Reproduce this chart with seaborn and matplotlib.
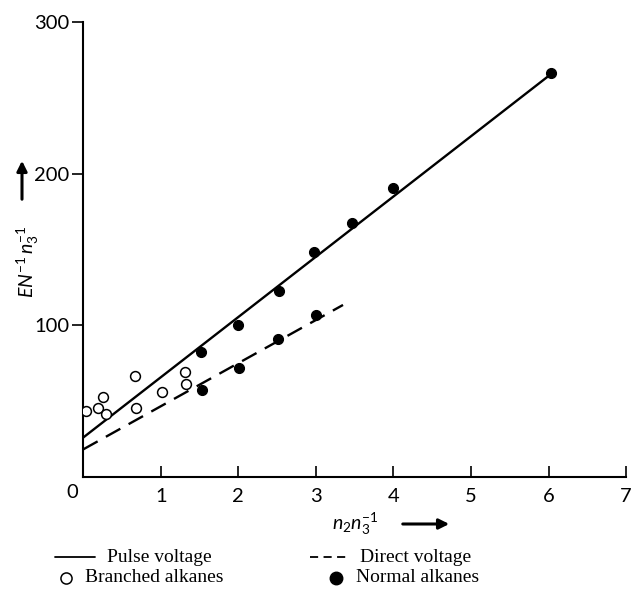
import matplotlib
matplotlib.use("Agg")
import matplotlib.pyplot as plt
import seaborn as sns
import pandas as pd
from matplotlib.lines import Line2D
from matplotlib.patches import FancyArrowPatch

sns.set_theme(style="white")
plt.rcParams["font.family"] = ["Lato", "DejaVu Sans"]
plt.rcParams["mathtext.fontset"] = "custom"
plt.rcParams["mathtext.it"] = "Lato:italic"
plt.rcParams["mathtext.rm"] = "Lato"
plt.rcParams["text.color"] = "black"

# Branched alkanes (open circles)
branched_x = [0.03, 0.19, 0.26, 0.30, 0.67, 0.68, 1.01, 1.31, 1.32]
branched_y = [43.5, 45.3, 53.0, 41.3, 66.8, 45.5, 56.0, 69.0, 61.3]

# Normal alkanes, pulse voltage (filled circles)
normal_pulse_x = [1.52, 2.00, 2.53, 2.98, 3.47, 3.99, 6.03]
normal_pulse_y = [82.6, 100.2, 122.6, 148.1, 167.6, 190.7, 266.5]

# Normal alkanes, direct voltage (filled circles)
normal_direct_x = [1.53, 2.01, 2.51, 3.00]
normal_direct_y = [57.2, 71.7, 90.8, 106.8]

# Fitted straight lines (end points)
pulse_line_x = [0.0, 6.03]
pulse_line_y = [26.0, 265.5]
direct_line_x = [0.0, 3.35]
direct_line_y = [18.2, 113.4]

x_ticks = [1, 2, 3, 4, 5, 6, 7]
y_ticks = [100, 200, 300]

fig = plt.figure(figsize=(6.35, 5.90), dpi=100)
ax = fig.add_axes([0.131, 0.1915, 0.855, 0.7715])

pulse_df = pd.DataFrame({"x": pulse_line_x, "y": pulse_line_y})
direct_df = pd.DataFrame({"x": direct_line_x, "y": direct_line_y})
sns.lineplot(data=pulse_df, x="x", y="y", ax=ax, color="black", lw=1.7)
sns.lineplot(data=direct_df, x="x", y="y", ax=ax, color="black", lw=1.7)
ax.lines[-1].set_dashes((7, 4))

normal_df = pd.DataFrame({"x": normal_pulse_x + normal_direct_x,
                          "y": normal_pulse_y + normal_direct_y})
branched_df = pd.DataFrame({"x": branched_x, "y": branched_y})
sns.scatterplot(data=normal_df, x="x", y="y", ax=ax, color="black",
                s=52, edgecolor="black", linewidth=0.8, zorder=5)
sns.scatterplot(data=branched_df, x="x", y="y", ax=ax, facecolor="white",
                s=50, edgecolor="black", linewidth=1.1, zorder=5)

ax.set_xlim(0, 7)
ax.set_ylim(0, 300)
ax.set_xticks(x_ticks)
ax.set_yticks(y_ticks)
ax.set_xticklabels([str(t) for t in x_ticks], fontsize=14.5)
ax.set_yticklabels([str(t) for t in y_ticks], fontsize=14.5)
ax.tick_params(axis="x", direction="in", length=8, width=1.2, pad=8,
               bottom=True, colors="black", labelcolor="black")
ax.tick_params(axis="y", direction="out", length=8, width=1.2, pad=2,
               left=True, colors="black", labelcolor="black")
for s in ["top", "right"]:
    ax.spines[s].set_visible(False)
for s in ["left", "bottom"]:
    ax.spines[s].set_color("black")
    ax.spines[s].set_linewidth(1.5)
ax.set_xlabel("")
ax.set_ylabel("")

# corner zero
fig.text(72 / 635, 1 - 492 / 590, "0", fontsize=14.5, ha="center", va="center")

# axis titles with arrows
fig.text(28 / 635, 1 - 262 / 590, r"$EN^{-1}\,n_3^{-1}$", rotation=90,
         fontsize=14, ha="center", va="center")
fig.add_artist(FancyArrowPatch(
    (22 / 635, 1 - 202 / 590), (22 / 635, 1 - 158 / 590),
    transform=fig.transFigure, arrowstyle="-|>,head_length=6,head_width=3",
    color="black", lw=2.2))
fig.text(355 / 635, 1 - 524 / 590, r"$n_2 n_3^{-1}$", fontsize=14,
         ha="center", va="center")
fig.add_artist(FancyArrowPatch(
    (400 / 635, 1 - 524 / 590), (452 / 635, 1 - 524 / 590),
    transform=fig.transFigure, arrowstyle="-|>,head_length=6,head_width=3",
    color="black", lw=2.2))

# key below the axes
serif = ["Liberation Serif", "DejaVu Serif"]


def key_line(x0, x1, y, ls):
    fig.add_artist(Line2D([x0 / 635, x1 / 635], [1 - y / 590, 1 - y / 590],
                          transform=fig.transFigure, color="black", lw=1.3,
                          linestyle=ls))


key_line(55, 95, 557, "-")
fig.text(107 / 635, 1 - 557 / 590, "Pulse voltage", family=serif,
         fontsize=14, va="center")
key_line(310, 350, 557, (0, (4.5, 3)))
fig.text(360 / 635, 1 - 557 / 590, "Direct voltage", family=serif,
         fontsize=14, va="center")
fig.add_artist(Line2D([66 / 635], [1 - 578 / 590], transform=fig.transFigure,
                      marker="o", markersize=8, markerfacecolor="white",
                      markeredgecolor="black", markeredgewidth=1.1, lw=0))
fig.text(85 / 635, 1 - 578 / 590, "Branched alkanes", family=serif,
         fontsize=14, va="center")
fig.add_artist(Line2D([336 / 635], [1 - 578 / 590], transform=fig.transFigure,
                      marker="o", markersize=9, markerfacecolor="black",
                      markeredgecolor="black", lw=0))
fig.text(356 / 635, 1 - 578 / 590, "Normal alkanes", family=serif,
         fontsize=14, va="center")

fig.savefig("out.png", dpi=100, facecolor="white")
